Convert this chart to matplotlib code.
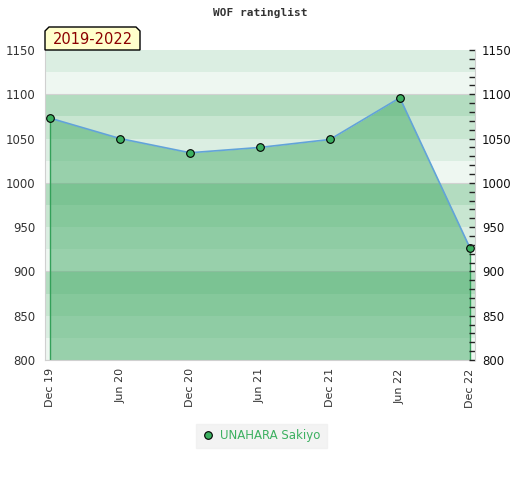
"""
    WOF ratinglist chart for a single player, drawn with matplotlib.
"""
import matplotlib
matplotlib.use("Agg")
import matplotlib.pyplot as plt
from matplotlib.lines import Line2D
from matplotlib.patches import Polygon
from matplotlib.ticker import MultipleLocator

# Data
periods = ["Dec 19", "Jun 20", "Dec 20", "Jun 21", "Dec 21", "Jun 22", "Dec 22"]
ratings = [1073, 1050, 1034, 1040, 1049, 1096, 927]
player = "UNAHARA Sakiyo"
span_label = "2019-2022"
y_min, y_max = 800, 1150

# Band colours for each 100 block, top band first
band_colors = ["#b3dcc0", "#c8e6d1", "#dbeee2", "#eef7f1"]

fig = plt.figure(figsize=(5.2, 4.8), dpi=100)
ax = fig.add_axes([45 / 520, 1 - 360 / 480, 430 / 520, 310 / 480])

x = list(range(len(periods)))
ax.set_xlim(-0.075, len(periods) - 1 + 0.075)
ax.set_ylim(y_min, y_max)

# background bands every 25 points
for top in range(1200, y_min, -25):
    idx = ((1200 - top) // 25) % 4
    ax.axhspan(top - 25, top, color=band_colors[idx], lw=0, zorder=0)
for g in range(y_min, y_max + 1, 100):
    ax.axhline(g, color="#d2d2d2", lw=0.8, zorder=0.5)

# filled area under rating line
ax.fill_between(x, ratings, y_min, color="#44ab67", alpha=0.5, lw=0, zorder=1)
ax.vlines([x[0], x[-1]], y_min, [ratings[0], ratings[-1]], color="#34a05a", lw=1, zorder=2)
ax.plot(x, ratings, color="#62a3d9", lw=1.2, zorder=3)
ax.plot(x, ratings, ls="none", marker="o", ms=5.5, mfc="#3cb060", mec="black", mew=0.8, zorder=4)

# axes styling
for side in ["top", "right"]:
    ax.spines[side].set_visible(False)
for side in ["left", "bottom"]:
    ax.spines[side].set_color("#d0d0d0")
ax.set_xticks(x)
ax.set_xticklabels(periods, rotation=90, fontsize=8, color="#333333")
ax.tick_params(axis="x", length=0, pad=6)
ax.yaxis.set_major_locator(MultipleLocator(50))
ax.tick_params(axis="y", length=0, labelsize=8.5, labelcolor="#333333", pad=7)

ax2 = ax.twinx()
ax2.set_ylim(y_min, y_max)
ax2.yaxis.set_major_locator(MultipleLocator(50))
ax2.yaxis.set_minor_locator(MultipleLocator(10))
ax2.tick_params(axis="y", which="both", direction="in", length=4, width=1, color="#222222",
                labelsize=8.5, labelcolor="#111111", pad=5)
for side in ["top", "left", "bottom"]:
    ax2.spines[side].set_visible(False)
ax2.spines["right"].set_color("#d0d0d0")

# title
fig.text(0.5, 1 - 13 / 480, "WOF ratinglist", ha="center", va="center",
         family="DejaVu Sans Mono", weight="bold", fontsize=8, color="#333333")

# period label box with chamfered top corners
x0, x1 = 45 / 520, 140 / 520
y0, y1 = 1 - 50 / 480, 1 - 27 / 480
cx, cy = 4 / 520, 4 / 480
box = Polygon([(x0, y0), (x0, y1 - cy), (x0 + cx, y1), (x1 - cx, y1), (x1, y1 - cy), (x1, y0)],
              closed=True, transform=fig.transFigure, facecolor="#ffffcc",
              edgecolor="black", lw=1, zorder=5)
fig.add_artist(box)
fig.text((x0 + x1) / 2, (y0 + y1) / 2 - 0.002, span_label, ha="center", va="center",
         fontsize=10.5, color="#8b0000", zorder=6)

# legend
handle = Line2D([], [], ls="none", marker="o", ms=5.5, mfc="#3cb060", mec="black", mew=0.8)
leg = fig.legend([handle], [player], loc="center", bbox_to_anchor=(0.502, 1 - 436 / 480),
                 frameon=True, fancybox=False, facecolor="#f0f0f0", edgecolor="#f0f0f0",
                 fontsize=8.5, handletextpad=0.4, borderpad=0.5, handlelength=1.2)
for t in leg.get_texts():
    t.set_color("#3cb060")

fig.savefig("out.png", dpi=100)
